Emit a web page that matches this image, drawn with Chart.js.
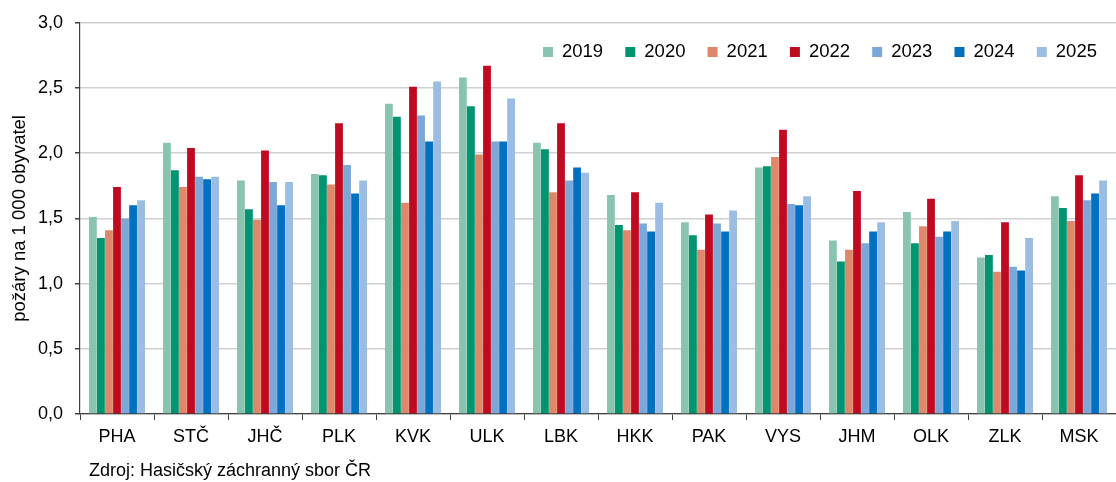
<!DOCTYPE html>
<html>
<head>
<meta charset="utf-8">
<script src="https://cdn.jsdelivr.net/npm/chart.js@4"></script>
<style>
  body { margin: 0; background: #fff; }
  #wrap { width: 1116px; height: 482px; position: relative; }
</style>
</head>
<body>
<div id="wrap"><canvas id="chart"></canvas></div>
<script>
const regions = ['PHA', 'STČ', 'JHČ', 'PLK', 'KVK', 'ULK', 'LBK', 'HKK', 'PAK', 'VYS', 'JHM', 'OLK', 'ZLK', 'MSK'];
const years = ['2019', '2020', '2021', '2022', '2023', '2024', '2025'];

const v2019 = [1.51, 2.08, 1.79, 1.84, 2.38, 2.58, 2.08, 1.68, 1.47, 1.89, 1.33, 1.55, 1.20, 1.67];
const v2020 = [1.35, 1.87, 1.57, 1.83, 2.28, 2.36, 2.03, 1.45, 1.37, 1.90, 1.17, 1.31, 1.22, 1.58];
const v2021 = [1.41, 1.74, 1.49, 1.76, 1.62, 1.99, 1.70, 1.41, 1.26, 1.97, 1.26, 1.44, 1.09, 1.48];
const v2022 = [1.74, 2.04, 2.02, 2.23, 2.51, 2.67, 2.23, 1.70, 1.53, 2.18, 1.71, 1.65, 1.47, 1.83];
const v2023 = [1.50, 1.82, 1.78, 1.91, 2.29, 2.09, 1.79, 1.46, 1.46, 1.61, 1.31, 1.36, 1.13, 1.64];
const v2024 = [1.60, 1.80, 1.60, 1.69, 2.09, 2.09, 1.89, 1.40, 1.40, 1.60, 1.40, 1.40, 1.10, 1.69];
const v2025 = [1.64, 1.82, 1.78, 1.79, 2.55, 2.42, 1.85, 1.62, 1.56, 1.67, 1.47, 1.48, 1.35, 1.79];

const yTicks = [0, 0.5, 1, 1.5, 2, 2.5, 3];

const colors = ['#88c4ae', '#009470', '#de876b', '#c00a20', '#7ba7d9', '#0070c0', '#9bbce3'];
const series = [v2019, v2020, v2021, v2022, v2023, v2024, v2025];

const FONT = '"Liberation Sans", Arial, sans-serif';

// legend drawn inside the plot area, top right
const innerLegend = {
  id: 'innerLegend',
  afterDraw(chart) {
    const ctx = chart.ctx;
    ctx.save();
    ctx.font = '18.5px ' + FONT;
    ctx.textBaseline = 'middle';
    const pitch = 82.3;
    const y = 52;
    let x = 543;
    chart.data.datasets.forEach((ds) => {
      ctx.fillStyle = ds.backgroundColor;
      ctx.fillRect(x, y - 5, 10, 10);
      ctx.fillStyle = '#000';
      ctx.fillText(ds.label, x + 19, y);
      x += pitch;
    });
    ctx.restore();
  }
};

const sourceNote = {
  id: 'sourceNote',
  afterDraw(chart) {
    const ctx = chart.ctx;
    ctx.save();
    ctx.font = '18px ' + FONT;
    ctx.fillStyle = '#000';
    ctx.textBaseline = 'middle';
    ctx.fillText('Zdroj: Hasičský záchranný sbor ČR', 89, 471);
    ctx.restore();
  }
};

new Chart(document.getElementById('chart'), {
  type: 'bar',
  data: {
    labels: regions,
    datasets: years.map((y, i) => ({
      label: y,
      data: series[i],
      backgroundColor: colors[i],
      borderWidth: 0,
      barPercentage: 0.97,
      categoryPercentage: 0.76
    }))
  },
  options: {
    responsive: true,
    maintainAspectRatio: false,
    animation: false,
    layout: { padding: { top: 20, left: 0, right: 0, bottom: 0 } },
    plugins: {
      legend: { display: false },
      tooltip: { enabled: false }
    },
    scales: {
      x: {
        afterFit(scale) { scale.height = 68; },
        grid: {
          drawOnChartArea: false,
          drawTicks: true,
          tickLength: 6,
          tickColor: '#404040',
          offset: true
        },
        border: { color: '#404040', width: 1.2 },
        ticks: {
          color: '#000',
          padding: 6,
          font: { family: FONT, size: 18 }
        }
      },
      y: {
        min: 0,
        max: 3,
        afterFit(scale) { scale.width = 80; },
        afterBuildTicks(scale) { scale.ticks = yTicks.map(v => ({ value: v })); },
        grid: {
          color: '#d0d0d0',
          lineWidth: 1.5,
          tickLength: 5,
          tickColor: '#404040'
        },
        border: { color: '#404040', width: 1.2 },
        ticks: {
          color: '#000',
          padding: 12,
          font: { family: FONT, size: 18 },
          callback: v => v.toFixed(1).replace('.', ',')
        },
        title: {
          display: true,
          text: 'požáry na 1 000 obyvatel',
          color: '#000',
          font: { family: FONT, size: 18.5 },
          padding: { top: 9, bottom: 0 }
        }
      }
    }
  },
  plugins: [innerLegend, sourceNote]
});
</script>
</body>
</html>
